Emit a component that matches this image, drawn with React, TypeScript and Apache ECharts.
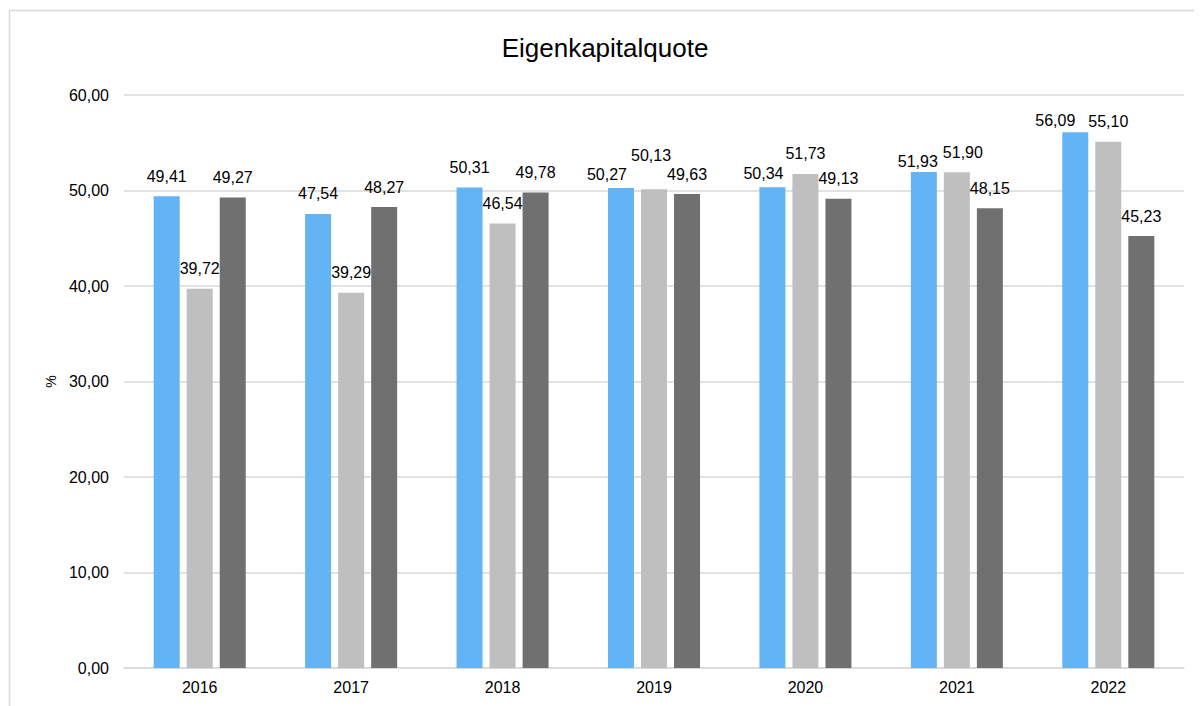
import React, { useEffect, useRef } from "react";
import * as echarts from "echarts";

const years = ["2016", "2017", "2018", "2019", "2020", "2021", "2022"];
const seriesA = [49.41, 47.54, 50.31, 50.27, 50.34, 51.93, 56.09];
const seriesB = [39.72, 39.29, 46.54, 50.13, 51.73, 51.9, 55.1];
const seriesC = [49.27, 48.27, 49.78, 49.63, 49.13, 48.15, 45.23];
const yTicks = { min: 0, max: 60, interval: 10 };

// manual label nudges [dx, dy] per series, per category (style only)
const nudgesA: [number, number][] = [[0, 0], [0, 0], [0, 0], [-14, 7], [-9, 6], [-6, 9], [-20, 8]];
const nudgesB: [number, number][] = [[0, 0], [0, 0], [0, 0], [-3, -14], [0, 0], [6, 0], [0, 0]];
const nudgesC: [number, number][] = [[0, 0], [0, 0], [0, 0], [0, 0], [0, 0], [0, 0], [0, 0]];

const FONT = "'Liberation Sans', Arial, sans-serif";
const fmt = (v: number) => v.toFixed(2).replace(".", ",");

export default function App() {
  const ref = useRef<HTMLDivElement>(null);
  useEffect(() => {
    if (!ref.current) return;
    const chart = echarts.init(ref.current, undefined, { renderer: "svg" });
    const mk = (name: string, vals: number[], color: string, nudges: [number, number][]) => ({
      name,
      type: "bar",
      barWidth: 26,
      barGap: "27%",
      itemStyle: { color },
      label: {
        show: true,
        position: "top",
        distance: 12,
        color: "#000",
        fontSize: 16,
        fontFamily: FONT,
        formatter: (p: any) => fmt(p.value),
      },
      data: vals.map((v, i) => ({
        value: v,
        label: { offset: nudges[i] },
      })),
    });
    chart.setOption({
      animation: false,
      backgroundColor: "#fff",
      title: {
        text: "Eigenkapitalquote",
        left: "center",
        top: 22,
        textStyle: { fontFamily: FONT, fontSize: 26, fontWeight: "normal", color: "#000" },
      },
      graphic: [
        {
          type: "rect",
          shape: { x: 1.5, y: 2.5, width: 1300, height: 1000 },
          style: { fill: "none", stroke: "#d9d9d9", lineWidth: 1.5 },
          silent: true,
          z: -1,
        },
      ],
      grid: { left: 116, right: 18, top: 87, bottom: 38 },
      xAxis: {
        type: "category",
        data: years,
        axisLine: { show: true, lineStyle: { color: "#d9d9d9", width: 1.5 } },
        axisTick: { show: false },
        axisLabel: { color: "#000", fontSize: 16, fontFamily: FONT, margin: 11 },
      },
      yAxis: {
        type: "value",
        min: yTicks.min,
        max: yTicks.max,
        interval: yTicks.interval,
        name: "%",
        nameLocation: "middle",
        nameGap: 62,
        nameRotate: 90,
        nameTextStyle: { color: "#000", fontSize: 14, fontFamily: FONT },
        axisLine: { show: false },
        axisTick: { show: false },
        axisLabel: { color: "#000", fontSize: 16, fontFamily: FONT, margin: 15, formatter: (v: number) => fmt(v) },
        splitLine: { lineStyle: { color: "#d9d9d9", width: 1.5 } },
      },
      series: [
        mk("A", seriesA, "#63b4f5", nudgesA),
        mk("B", seriesB, "#bfbfbf", nudgesB),
        mk("C", seriesC, "#707070", nudgesC),
      ],
    });
    return () => chart.dispose();
  }, []);
  return <div ref={ref} style={{ width: 1194, height: 698 }} />;
}
